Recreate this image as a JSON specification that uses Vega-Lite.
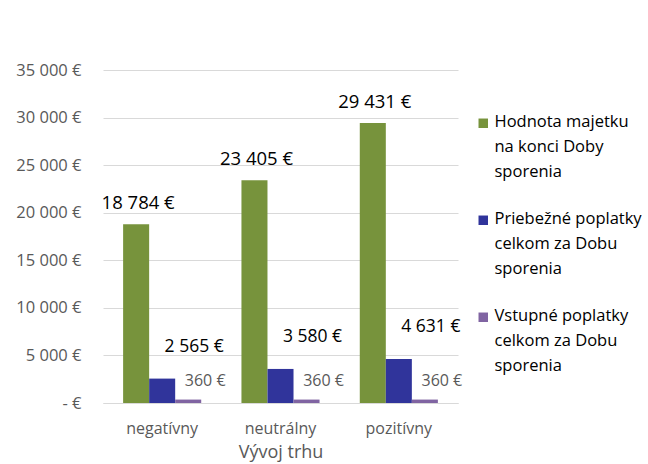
{
  "$schema": "https://vega.github.io/schema/vega-lite/v6.json",
  "autosize": {"type": "none"},
  "padding": {"left": 103, "top": 70, "right": 190, "bottom": 61},
  "width": 355,
  "height": 333,
  "background": "white",
  "config": {
    "font": "Open Sans",
    "view": {"stroke": null},
    "style": {"guide-label": {"lineHeight": 25}}
  },
  "data": {
    "values": [
      {"trh": "negatívny", "serie": "Hodnota majetku na konci Doby sporenia", "hodnota": 18784},
      {"trh": "negatívny", "serie": "Priebežné poplatky celkom za Dobu sporenia", "hodnota": 2565},
      {"trh": "negatívny", "serie": "Vstupné poplatky celkom za Dobu sporenia", "hodnota": 360},
      {"trh": "neutrálny", "serie": "Hodnota majetku na konci Doby sporenia", "hodnota": 23405},
      {"trh": "neutrálny", "serie": "Priebežné poplatky celkom za Dobu sporenia", "hodnota": 3580},
      {"trh": "neutrálny", "serie": "Vstupné poplatky celkom za Dobu sporenia", "hodnota": 360},
      {"trh": "pozitívny", "serie": "Hodnota majetku na konci Doby sporenia", "hodnota": 29431},
      {"trh": "pozitívny", "serie": "Priebežné poplatky celkom za Dobu sporenia", "hodnota": 4631},
      {"trh": "pozitívny", "serie": "Vstupné poplatky celkom za Dobu sporenia", "hodnota": 360}
    ]
  },
  "transform": [
    {"calculate": "replace(format(datum.hodnota, ',d'), ',', ' ') + ' €'", "as": "popis"}
  ],
  "encoding": {
    "x": {
      "field": "trh", "type": "nominal", "sort": null,
      "scale": {"paddingInner": 0.34, "paddingOuter": 0.17},
      "axis": {
        "title": "Vývoj trhu", "labelAngle": 0, "labelFontSize": 16, "labelColor": "#595959",
        "titleFontSize": 18, "titleColor": "#595959", "titleFontWeight": "normal", "titlePadding": 7,
        "ticks": false, "domain": true, "domainColor": "#d9d9d9", "labelPadding": 17
      }
    },
    "xOffset": {
      "field": "serie", "type": "nominal", "sort": null,
      "scale": {"paddingInner": 0, "paddingOuter": 0}
    },
    "y": {
      "field": "hodnota", "type": "quantitative",
      "scale": {"domain": [0, 35000]},
      "axis": {
        "title": null, "values": [0, 5000, 10000, 15000, 20000, 25000, 30000, 35000],
        "labelExpr": "datum.value == 0 ? '-  €' : replace(format(datum.value, ',d'), ',', ' ') + ' €'",
        "labelFontSize": 16.5, "labelColor": "#595959", "labelPadding": 22,
        "ticks": false, "domain": false, "grid": true, "gridColor": "#d9d9d9"
      }
    }
  },
  "layer": [
    {
      "mark": {"type": "bar"},
      "encoding": {
        "color": {
          "field": "serie", "type": "nominal", "sort": null,
          "scale": {
            "domain": ["Hodnota majetku na konci Doby sporenia", "Priebežné poplatky celkom za Dobu sporenia", "Vstupné poplatky celkom za Dobu sporenia"],
            "range": ["#77933c", "#30349b", "#8064a2"]
          },
          "legend": {
            "title": null, "orient": "none", "legendX": 372, "legendY": 36,
            "symbolType": "M-1,0.9H1V2.9H-1Z", "symbolSize": 90, "symbolStrokeWidth": 0,
            "labelFontSize": 16.5, "labelColor": "#000000", "labelLimit": 220,
            "labelBaseline": "top", "labelOffset": 3, "rowPadding": 22,
            "labelExpr": "datum.label == 'Hodnota majetku na konci Doby sporenia' ? ['Hodnota majetku', 'na konci Doby', 'sporenia'] : datum.label == 'Priebežné poplatky celkom za Dobu sporenia' ? ['Priebežné poplatky', 'celkom za Dobu', 'sporenia'] : ['Vstupné poplatky', 'celkom za Dobu', 'sporenia']"
          }
        }
      }
    },
    {
      "transform": [{"filter": "datum.serie == 'Hodnota majetku na konci Doby sporenia'"}],
      "mark": {"type": "text", "fontSize": 18.5, "color": "#000000", "baseline": "middle", "dx": 2, "dy": -21},
      "encoding": {"text": {"field": "popis", "type": "nominal"}}
    },
    {
      "transform": [{"filter": "datum.serie == 'Priebežné poplatky celkom za Dobu sporenia'"}],
      "mark": {"type": "text", "fontSize": 17.5, "color": "#000000", "baseline": "middle", "dx": 32, "dy": -32},
      "encoding": {"text": {"field": "popis", "type": "nominal"}}
    },
    {
      "transform": [{"filter": "datum.serie == 'Vstupné poplatky celkom za Dobu sporenia'"}],
      "mark": {"type": "text", "fontSize": 16, "color": "#595959", "baseline": "middle", "dx": 17, "dy": -19},
      "encoding": {"text": {"field": "popis", "type": "nominal"}}
    }
  ]
}
